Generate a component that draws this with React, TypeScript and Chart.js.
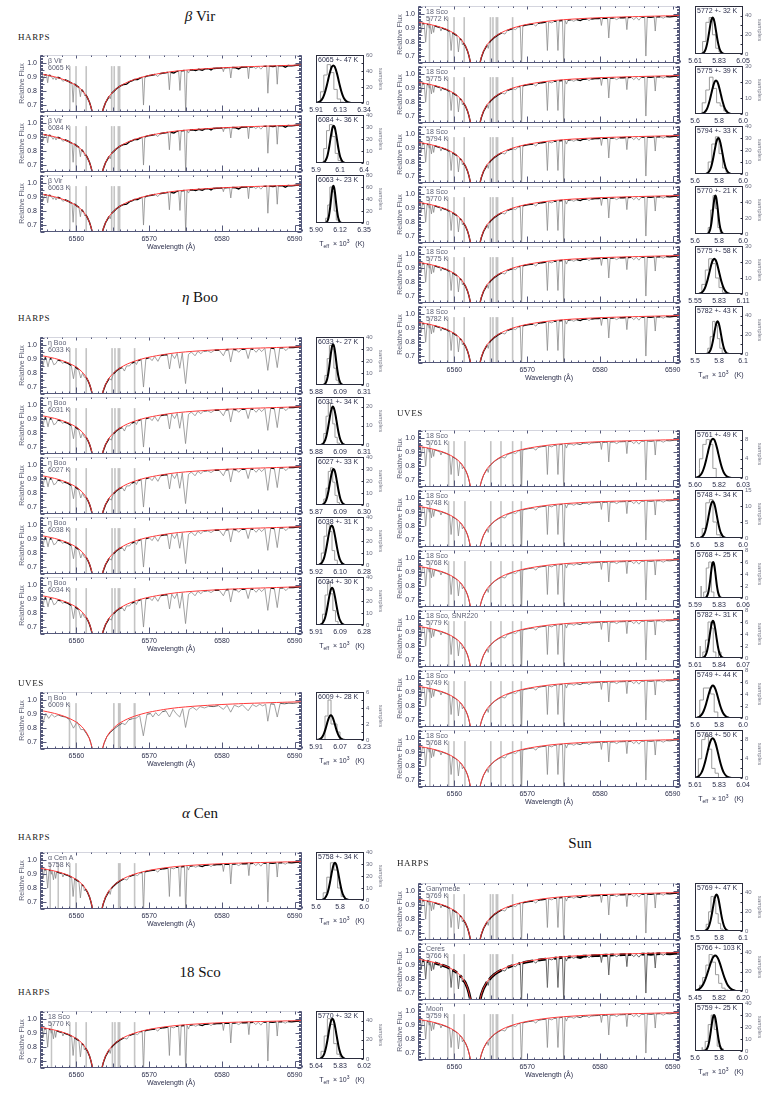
import React, { useEffect, useRef } from "react";
import { Chart, registerables } from "chart.js";
Chart.register(...registerables);

type Pt = [number, number];

const FONT = "'Liberation Sans', 'DejaVu Sans', Arial, sans-serif";
const SERIF = "'Liberation Serif', 'DejaVu Serif', serif";
const TICK_COL = "#2c2f4c";
const AXIS_COL = "#55597a";
const LABEL_GREY = "#5e6175";

const X_MIN = 6555;
const X_MAX = 6591;
const Y_MIN = 0.65;
const Y_MAX = 1.06;
const WAVE_TICKS = [6560, 6570, 6580, 6590];
const FLUX_TICKS = [0.7, 0.8, 0.9, 1.0];
const BAND_TOP = 0.98;

// ---------- model (red) H-alpha profiles ----------
const SOLAR_MODEL: Pt[] = [[6555,0.943],[6556,0.934],[6557,0.923],[6558,0.909],[6559,0.890],[6560,0.862],[6560.5,0.842],[6561,0.815],[6561.5,0.775],[6561.8,0.738],[6562.0,0.702],[6562.2,0.656],[6562.4,0.600],[6563.3,0.600],[6563.5,0.648],[6563.7,0.690],[6564.0,0.735],[6564.5,0.782],[6565.0,0.812],[6565.5,0.836],[6566.0,0.855],[6567.0,0.882],[6568.0,0.901],[6569.0,0.916],[6570.0,0.928],[6572.0,0.945],[6574.0,0.957],[6576.0,0.965],[6578.0,0.971],[6580.0,0.976],[6583.0,0.981],[6586.0,0.985],[6589.0,0.989],[6591.0,0.991]];

const BVIR_MODEL: Pt[] = [[6555,0.925],[6556,0.915],[6557,0.903],[6558,0.888],[6559,0.868],[6560,0.840],[6560.5,0.820],[6561,0.793],[6561.5,0.755],[6561.8,0.720],[6562.0,0.687],[6562.2,0.645],[6562.4,0.595],[6563.3,0.595],[6563.5,0.635],[6563.7,0.673],[6564.0,0.717],[6564.5,0.763],[6565.0,0.793],[6565.5,0.817],[6566.0,0.836],[6567.0,0.864],[6568.0,0.884],[6569.0,0.900],[6570.0,0.913],[6572.0,0.932],[6574.0,0.946],[6576.0,0.955],[6578.0,0.962],[6580.0,0.968],[6583.0,0.975],[6586.0,0.980],[6589.0,0.985],[6591.0,0.988]];

const ETA_MODEL: Pt[] = [[6555,0.928],[6556,0.918],[6557,0.906],[6558,0.891],[6559,0.871],[6560,0.843],[6560.5,0.823],[6561,0.796],[6561.5,0.758],[6561.8,0.722],[6562.0,0.689],[6562.2,0.647],[6562.4,0.597],[6563.3,0.597],[6563.5,0.637],[6563.7,0.675],[6564.0,0.719],[6564.5,0.765],[6565.0,0.795],[6565.5,0.819],[6566.0,0.838],[6567.0,0.866],[6568.0,0.886],[6569.0,0.902],[6570.0,0.915],[6572.0,0.934],[6574.0,0.948],[6576.0,0.957],[6578.0,0.964],[6580.0,0.970],[6583.0,0.977],[6586.0,0.982],[6589.0,0.987],[6591.0,0.990]];

// ---------- observed spectra ----------
const SOLAR_SPEC: Pt[] = [[6555.0,0.940],[6555.3,0.937],[6555.45,0.870],[6555.6,0.934],[6555.85,0.932],[6556.05,0.800],[6556.25,0.929],[6556.45,0.926],[6556.55,0.900],[6556.65,0.925],[6556.85,0.860],[6557.0,0.920],[6557.15,0.870],[6557.3,0.917],[6557.7,0.910],[6558.0,0.906],[6558.15,0.880],[6558.3,0.901],[6558.7,0.894],[6559.0,0.888],[6559.35,0.878],[6559.55,0.740],[6559.75,0.866],[6560.1,0.856],[6560.35,0.846],[6560.55,0.730],[6560.75,0.827],[6561.0,0.813],[6561.1,0.780],[6561.25,0.793],[6561.5,0.774],[6561.8,0.737],[6562.0,0.701],[6562.2,0.655],[6562.4,0.600],[6563.3,0.600],[6563.5,0.647],[6563.7,0.689],[6564.0,0.733],[6564.5,0.780],[6564.65,0.755],[6564.8,0.797],[6565.0,0.810],[6565.5,0.834],[6566.0,0.852],[6566.5,0.866],[6566.95,0.858],[6567.3,0.885],[6567.7,0.892],[6568.0,0.898],[6568.4,0.890],[6568.8,0.910],[6569.05,0.913],[6569.22,0.630],[6569.4,0.917],[6569.8,0.922],[6570.2,0.926],[6570.8,0.931],[6571.2,0.915],[6571.5,0.936],[6572.0,0.940],[6572.6,0.944],[6572.78,0.740],[6572.95,0.946],[6573.4,0.938],[6573.7,0.950],[6574.05,0.952],[6574.23,0.740],[6574.4,0.954],[6574.85,0.956],[6575.02,0.630],[6575.2,0.957],[6575.4,0.930],[6575.6,0.959],[6576.0,0.960],[6576.4,0.950],[6576.8,0.962],[6577.3,0.955],[6577.7,0.965],[6578.2,0.966],[6578.5,0.955],[6578.8,0.967],[6579.3,0.969],[6579.8,0.970],[6580.05,0.971],[6580.2,0.920],[6580.35,0.971],[6580.8,0.972],[6581.05,0.972],[6581.21,0.830],[6581.4,0.973],[6581.9,0.974],[6582.3,0.962],[6582.7,0.975],[6583.2,0.976],[6583.55,0.977],[6583.7,0.890],[6583.85,0.977],[6584.3,0.978],[6584.65,0.962],[6585.0,0.979],[6585.35,0.958],[6585.7,0.980],[6586.15,0.980],[6586.31,0.700],[6586.5,0.981],[6587.0,0.978],[6587.45,0.982],[6587.6,0.880],[6587.75,0.982],[6588.3,0.983],[6588.7,0.972],[6589.1,0.984],[6589.6,0.982],[6590.2,0.986],[6591.0,0.988]];

const BVIR_SPEC: Pt[] = [[6555.0,0.924],[6555.3,0.921],[6555.45,0.875],[6555.6,0.919],[6555.9,0.916],[6556.05,0.860],[6556.2,0.914],[6556.5,0.911],[6556.8,0.885],[6557.0,0.903],[6557.2,0.880],[6557.4,0.900],[6557.8,0.893],[6558.15,0.870],[6558.4,0.882],[6558.8,0.873],[6559.2,0.862],[6559.4,0.857],[6559.55,0.720],[6559.7,0.852],[6560.1,0.836],[6560.35,0.827],[6560.55,0.760],[6560.7,0.812],[6561.0,0.793],[6561.15,0.765],[6561.3,0.773],[6561.5,0.755],[6561.8,0.720],[6562.0,0.687],[6562.2,0.645],[6562.4,0.595],[6563.3,0.595],[6563.5,0.635],[6563.7,0.673],[6564.0,0.717],[6564.5,0.763],[6564.65,0.745],[6564.8,0.781],[6565.0,0.793],[6565.5,0.817],[6566.0,0.836],[6566.5,0.848],[6566.9,0.850],[6567.3,0.868],[6567.7,0.876],[6568.0,0.884],[6568.4,0.883],[6568.8,0.896],[6569.05,0.899],[6569.22,0.700],[6569.4,0.902],[6569.8,0.910],[6570.3,0.914],[6570.8,0.920],[6571.2,0.905],[6571.5,0.925],[6572.0,0.931],[6572.6,0.935],[6572.78,0.810],[6572.95,0.936],[6573.4,0.930],[6573.7,0.940],[6574.05,0.944],[6574.23,0.805],[6574.4,0.946],[6574.85,0.948],[6575.02,0.640],[6575.2,0.949],[6575.4,0.930],[6575.6,0.952],[6576.0,0.954],[6576.4,0.948],[6576.8,0.957],[6577.3,0.951],[6577.7,0.960],[6578.2,0.962],[6578.5,0.952],[6578.8,0.963],[6579.3,0.965],[6579.8,0.966],[6580.05,0.967],[6580.2,0.940],[6580.35,0.968],[6580.8,0.969],[6581.05,0.969],[6581.21,0.895],[6581.4,0.970],[6581.9,0.968],[6582.3,0.960],[6582.7,0.972],[6583.2,0.973],[6583.5,0.974],[6583.65,0.890],[6583.8,0.974],[6584.3,0.976],[6584.65,0.962],[6585.0,0.977],[6585.35,0.958],[6585.7,0.978],[6586.15,0.979],[6586.31,0.785],[6586.5,0.980],[6587.0,0.977],[6587.45,0.981],[6587.6,0.850],[6587.75,0.982],[6588.3,0.983],[6588.7,0.972],[6589.1,0.984],[6589.6,0.982],[6590.2,0.986],[6591.0,0.988]];

const ETA_SPEC: Pt[] = [[6555.0,0.926],[6555.15,0.915],[6555.4,0.850],[6555.65,0.912],[6555.85,0.905],[6556.1,0.845],[6556.35,0.905],[6556.6,0.900],[6556.9,0.860],[6557.2,0.870],[6557.45,0.895],[6557.85,0.888],[6558.1,0.870],[6558.35,0.880],[6558.8,0.872],[6559.3,0.855],[6559.6,0.760],[6559.85,0.845],[6560.3,0.826],[6560.6,0.765],[6560.85,0.800],[6561.1,0.770],[6561.35,0.770],[6561.6,0.745],[6561.8,0.720],[6562.0,0.687],[6562.2,0.645],[6562.4,0.595],[6563.3,0.595],[6563.5,0.635],[6563.7,0.673],[6564.0,0.717],[6564.5,0.763],[6564.8,0.750],[6565.1,0.795],[6565.5,0.817],[6566.0,0.836],[6566.3,0.840],[6566.6,0.815],[6566.9,0.852],[6567.3,0.852],[6567.6,0.872],[6568.0,0.882],[6568.25,0.862],[6568.5,0.890],[6568.9,0.899],[6569.22,0.700],[6569.55,0.904],[6570.0,0.912],[6570.4,0.890],[6570.75,0.920],[6571.2,0.885],[6571.6,0.926],[6572.1,0.932],[6572.5,0.932],[6572.8,0.830],[6573.1,0.937],[6573.5,0.905],[6573.85,0.942],[6574.2,0.835],[6574.55,0.946],[6575.0,0.725],[6575.4,0.935],[6575.8,0.952],[6576.3,0.925],[6576.7,0.957],[6577.1,0.940],[6577.5,0.960],[6578.0,0.962],[6578.5,0.948],[6579.0,0.965],[6579.6,0.967],[6580.2,0.925],[6580.55,0.968],[6580.9,0.970],[6581.2,0.880],[6581.55,0.971],[6582.0,0.967],[6582.3,0.950],[6582.7,0.972],[6583.25,0.974],[6583.6,0.905],[6583.95,0.975],[6584.3,0.972],[6584.7,0.950],[6585.1,0.976],[6585.45,0.955],[6585.9,0.979],[6586.3,0.820],[6586.7,0.980],[6587.2,0.977],[6587.6,0.840],[6587.95,0.983],[6588.4,0.982],[6588.8,0.962],[6589.2,0.985],[6589.8,0.984],[6590.4,0.987],[6591.0,0.989]];

const ETA_UVES_SPEC: Pt[] = [[6555.0,0.915],[6555.4,0.835],[6555.8,0.905],[6556.2,0.870],[6556.6,0.900],[6557.0,0.880],[6557.5,0.895],[6558.0,0.885],[6558.5,0.880],[6559.0,0.865],[6559.6,0.800],[6560.1,0.845],[6560.6,0.790],[6561.0,0.790],[6561.4,0.760],[6561.8,0.725],[6562.0,0.690],[6562.2,0.650],[6562.4,0.600],[6563.4,0.600],[6563.6,0.650],[6563.8,0.690],[6564.2,0.740],[6564.7,0.770],[6565.2,0.795],[6565.8,0.820],[6566.3,0.835],[6566.7,0.825],[6567.2,0.860],[6567.7,0.868],[6568.2,0.872],[6568.7,0.890],[6569.2,0.745],[6569.7,0.900],[6570.2,0.905],[6570.5,0.880],[6570.9,0.912],[6571.3,0.888],[6571.8,0.918],[6572.3,0.925],[6572.8,0.880],[6573.3,0.935],[6573.7,0.905],[6574.2,0.880],[6574.6,0.940],[6575.0,0.805],[6575.5,0.935],[6576.0,0.950],[6576.5,0.930],[6577.0,0.955],[6577.6,0.945],[6578.2,0.958],[6578.8,0.955],[6579.5,0.962],[6580.2,0.935],[6580.7,0.965],[6581.2,0.915],[6581.7,0.965],[6582.3,0.952],[6582.8,0.968],[6583.6,0.925],[6584.2,0.970],[6584.7,0.955],[6585.2,0.972],[6585.6,0.960],[6586.0,0.972],[6586.3,0.850],[6586.7,0.975],[6587.2,0.972],[6587.6,0.880],[6588.0,0.978],[6588.6,0.975],[6589.2,0.980],[6589.8,0.978],[6590.4,0.983],[6591.0,0.985]];

// ---------- masked (grey) wavelength bands: [centre, width] ----------
const BANDS_BVIR: Pt[] = [[6559.1,0.22],[6559.95,0.22],[6561.35,0.22],[6564.85,0.22],[6565.2,0.22],[6565.85,0.4]];
const BANDS_ETA: Pt[] = [[6559.1,0.22],[6559.95,0.22],[6561.35,0.22],[6564.9,0.22],[6565.3,0.22],[6565.85,0.4],[6568.0,0.22]];
const BANDS_ETA_UVES: Pt[] = [[6559.05,0.22],[6559.95,0.22],[6565.15,0.22],[6565.9,0.4],[6568.0,0.3]];
const BANDS_SCO: Pt[] = [[6556.55,0.15],[6559.1,0.22],[6559.95,0.22],[6561.35,0.22],[6564.95,0.22],[6565.3,0.22],[6565.85,0.4],[6568.0,0.22]];
const BANDS_ACEN: Pt[] = [[6556.4,0.2],[6557.5,0.2],[6559.1,0.22],[6559.95,0.22],[6565.9,0.4],[6568.0,0.22]];
const BANDS_SCO_UVES: Pt[] = [[6556.6,0.15],[6559.2,0.22],[6559.95,0.22],[6561.45,0.22],[6565.0,0.22],[6566.4,0.22],[6568.0,0.22],[6569.2,0.22]];

// ---------- normalised Gaussian shape (z in units of sigma) ----------
const GAUSS_Z = [-4,-3.5,-3,-2.5,-2,-1.75,-1.5,-1.25,-1,-0.75,-0.5,-0.25,0,0.25,0.5,0.75,1,1.25,1.5,1.75,2,2.5,3,3.5,4];
const GAUSS_SHAPE = [0.0003,0.0022,0.0111,0.0439,0.1353,0.2163,0.3247,0.4578,0.6065,0.7548,0.8825,0.9692,1,0.9692,0.8825,0.7548,0.6065,0.4578,0.3247,0.2163,0.1353,0.0439,0.0111,0.0022,0.0003];

type Hist = { label: string; lo: number; hi: number; xl: string[]; yMax: number; yStep: number; mean: number; sd: number; peak: number; b0: number; bw: number; counts: number[] };

const H_BVIR: Hist[] = [
  { label: "6065 +- 47 K", lo: 5.91, hi: 6.34, xl: ["5.91", "6.13", "6.34"], yMax: 60, yStep: 10, mean: 6.065, sd: 0.047, peak: 47, b0: 5.95, bw: 0.03, counts: [4, 14, 35, 48, 38, 17, 5, 1] },
  { label: "6084 +- 36 K", lo: 5.9, hi: 6.4, xl: ["5.9", "6.1", "6.4"], yMax: 40, yStep: 10, mean: 6.084, sd: 0.036, peak: 31, b0: 5.98, bw: 0.03, counts: [3, 12, 27, 32, 22, 8, 2] },
  { label: "6063 +- 23 K", lo: 5.9, hi: 6.35, xl: ["5.90", "6.12", "6.35"], yMax: 80, yStep: 20, mean: 6.063, sd: 0.023, peak: 62, b0: 5.99, bw: 0.02, counts: [2, 8, 30, 60, 52, 20, 5, 1] },
];
const H_ETA: Hist[] = [
  { label: "6033 +- 27 K", lo: 5.88, hi: 6.31, xl: ["5.88", "6.09", "6.31"], yMax: 40, yStep: 10, mean: 6.033, sd: 0.027, peak: 34, b0: 5.96, bw: 0.02, counts: [2, 8, 22, 33, 30, 14, 4, 1] },
  { label: "6031 +- 34 K", lo: 5.88, hi: 6.31, xl: ["5.88", "6.09", "6.31"], yMax: 25, yStep: 5, mean: 6.031, sd: 0.034, peak: 20, b0: 5.95, bw: 0.02, counts: [2, 6, 15, 22, 19, 11, 4, 1] },
  { label: "6027 +- 33 K", lo: 5.87, hi: 6.3, xl: ["5.87", "6.09", "6.30"], yMax: 40, yStep: 10, mean: 6.027, sd: 0.033, peak: 30, b0: 5.94, bw: 0.02, counts: [1, 5, 14, 28, 31, 19, 8, 2] },
  { label: "6038 +- 31 K", lo: 5.92, hi: 6.28, xl: ["5.92", "6.10", "6.28"], yMax: 40, yStep: 10, mean: 6.038, sd: 0.031, peak: 33, b0: 5.96, bw: 0.02, counts: [3, 10, 24, 34, 28, 12, 4] },
  { label: "6034 +- 30 K", lo: 5.91, hi: 6.28, xl: ["5.91", "6.09", "6.28"], yMax: 40, yStep: 10, mean: 6.034, sd: 0.03, peak: 31, b0: 5.96, bw: 0.02, counts: [2, 9, 25, 36, 26, 12, 3] },
];
const H_ETA_UVES: Hist[] = [
  { label: "6009 +- 28 K", lo: 5.91, hi: 6.23, xl: ["5.91", "6.07", "6.23"], yMax: 6, yStep: 1, mean: 6.009, sd: 0.028, peak: 3.1, b0: 5.97, bw: 0.02, counts: [3, 3, 5, 2, 2, 1] },
];
const H_ACEN: Hist[] = [
  { label: "5758 +- 34 K", lo: 5.6, hi: 6.0, xl: ["5.6", "5.8", "6.0"], yMax: 40, yStep: 10, mean: 5.758, sd: 0.034, peak: 31, b0: 5.66, bw: 0.03, counts: [1, 6, 19, 31, 25, 10, 3, 1] },
];
const H_SCO_L: Hist[] = [
  { label: "5770 +- 32 K", lo: 5.64, hi: 6.02, xl: ["5.64", "5.83", "6.02"], yMax: 50, yStep: 10, mean: 5.77, sd: 0.032, peak: 42, b0: 5.68, bw: 0.025, counts: [2, 8, 24, 42, 36, 16, 5, 2] },
];
const H_SCO_R: Hist[] = [
  { label: "5772 +- 32 K", lo: 5.61, hi: 6.05, xl: ["5.61", "5.83", "6.05"], yMax: 50, yStep: 10, mean: 5.772, sd: 0.032, peak: 38, b0: 5.68, bw: 0.03, counts: [3, 13, 33, 38, 20, 6, 2] },
  { label: "5775 +- 39 K", lo: 5.6, hi: 6.0, xl: ["5.6", "5.8", "6.0"], yMax: 30, yStep: 10, mean: 5.775, sd: 0.039, peak: 21, b0: 5.66, bw: 0.03, counts: [2, 7, 15, 23, 16, 7, 5, 2] },
  { label: "5794 +- 33 K", lo: 5.6, hi: 6.0, xl: ["5.6", "5.8", "6.0"], yMax: 40, yStep: 10, mean: 5.794, sd: 0.033, peak: 30, b0: 5.71, bw: 0.03, counts: [2, 10, 25, 31, 17, 5, 1] },
  { label: "5770 +- 21 K", lo: 5.6, hi: 6.0, xl: ["5.6", "5.8", "6.0"], yMax: 60, yStep: 20, mean: 5.77, sd: 0.021, peak: 48, b0: 5.71, bw: 0.02, counts: [2, 8, 30, 48, 32, 8, 2] },
  { label: "5775 +- 58 K", lo: 5.55, hi: 6.11, xl: ["5.55", "5.83", "6.11"], yMax: 30, yStep: 10, mean: 5.775, sd: 0.058, peak: 22, b0: 5.63, bw: 0.04, counts: [2, 6, 15, 22, 19, 10, 4, 1] },
  { label: "5782 +- 43 K", lo: 5.5, hi: 6.1, xl: ["5.5", "5.8", "6.1"], yMax: 50, yStep: 10, mean: 5.782, sd: 0.043, peak: 34, b0: 5.66, bw: 0.03, counts: [2, 6, 18, 34, 30, 16, 6, 1] },
];
const H_SCO_UVES: Hist[] = [
  { label: "5761 +- 49 K", lo: 5.6, hi: 6.03, xl: ["5.60", "5.82", "6.03"], yMax: 10, yStep: 2, mean: 5.761, sd: 0.049, peak: 8.2, b0: 5.64, bw: 0.03, counts: [2, 4, 7, 8, 7, 2] },
  { label: "5748 +- 34 K", lo: 5.6, hi: 6.0, xl: ["5.6", "5.8", "6.0"], yMax: 15, yStep: 5, mean: 5.748, sd: 0.034, peak: 11.5, b0: 5.66, bw: 0.03, counts: [1, 3, 11, 12, 5, 1] },
  { label: "5768 +- 25 K", lo: 5.59, hi: 6.06, xl: ["5.59", "5.83", "6.06"], yMax: 8, yStep: 2, mean: 5.768, sd: 0.025, peak: 6, b0: 5.65, bw: 0.025, counts: [2, 0, 1, 5, 6, 1] },
  { label: "5782 +- 31 K", lo: 5.61, hi: 6.07, xl: ["5.61", "5.84", "6.07"], yMax: 8, yStep: 2, mean: 5.782, sd: 0.031, peak: 6.2, b0: 5.66, bw: 0.025, counts: [2, 0, 1, 3, 6, 5, 1, 0, 1] },
  { label: "5749 +- 44 K", lo: 5.6, hi: 6.0, xl: ["5.6", "5.8", "6.0"], yMax: 8, yStep: 2, mean: 5.749, sd: 0.044, peak: 5.4, b0: 5.64, bw: 0.03, counts: [1, 3, 5, 5, 4, 1] },
  { label: "5768 +- 50 K", lo: 5.61, hi: 6.04, xl: ["5.61", "5.83", "6.04"], yMax: 10, yStep: 2, mean: 5.768, sd: 0.05, peak: 8.3, b0: 5.64, bw: 0.03, counts: [1, 4, 8, 9, 6, 2, 1] },
];
const H_SUN: Hist[] = [
  { label: "5769 +- 47 K", lo: 5.5, hi: 6.1, xl: ["5.5", "5.8", "6.1"], yMax: 50, yStep: 10, mean: 5.769, sd: 0.047, peak: 38, b0: 5.64, bw: 0.03, counts: [2, 7, 20, 36, 32, 18, 8, 2] },
  { label: "5766 +- 103 K", lo: 5.45, hi: 6.2, xl: ["5.45", "5.82", "6.20"], yMax: 50, yStep: 10, mean: 5.766, sd: 0.103, peak: 37, b0: 5.52, bw: 0.05, counts: [2, 6, 14, 27, 38, 30, 17, 8, 3, 1] },
  { label: "5759 +- 25 K", lo: 5.6, hi: 6.0, xl: ["5.6", "5.8", "6.0"], yMax: 40, yStep: 10, mean: 5.759, sd: 0.025, peak: 30, b0: 5.66, bw: 0.025, counts: [3, 1, 8, 22, 30, 18, 4, 2] },
];

// ---------- panel labels ----------
const TEFF_BVIR = ["6065 K", "6084 K", "6063 K"];
const TEFF_ETA = ["6033 K", "6031 K", "6027 K", "6038 K", "6034 K"];
const TEFF_SCO_R = ["5772 K", "5775 K", "5794 K", "5770 K", "5775 K", "5782 K"];
const TEFF_SCO_UVES = ["5761 K", "5748 K", "5768 K", "5779 K", "5749 K", "5768 K"];
const NAMES_SCO_UVES = ["18 Sco", "18 Sco", "18 Sco", "18 Sco, SNR220", "18 Sco", "18 Sco"];
const NAMES_SUN = ["Ganymede", "Ceres", "Moon"];
const TEFF_SUN = ["5769 K", "5766 K", "5759 K"];

// ---------- layout ----------
const LEFT_X = 40;
const RIGHT_X = 418;
const BOX_W = 262;
const BOX_H = 57;
const HIST_GAP = 15;
const HIST_W = 48;
const AXIS_W = 22;

const MODES: Record<string, { cc: string; cw: number; lc: string; lw: number }> = {
  harps: { cc: "#000", cw: 1.4, lc: "#8a8a8a", lw: 0.8 },
  uves: { cc: "#4a4a4a", cw: 0.9, lc: "#8a8a8a", lw: 0.8 },
  noisy: { cc: "#000", cw: 2.8, lc: "#666", lw: 1.0 },
  moon: { cc: "#333", cw: 0.9, lc: "#8a8a8a", lw: 0.8 },
};

function modelAt(model: Pt[], x: number) {
  if (x <= model[0][0]) return model[0][1];
  for (let i = 1; i < model.length; i++) {
    if (x <= model[i][0]) {
      const [x0, y0] = model[i - 1];
      const [x1, y1] = model[i];
      return y0 + ((y1 - y0) * (x - x0)) / (x1 - x0);
    }
  }
  return model[model.length - 1][1];
}

type SpecProps = { left: number; top: number; spec: Pt[]; model: Pt[]; bands: Pt[]; name: string; teff: string; mode: string; showX: boolean };

function SpecPanel(p: SpecProps) {
  const ref = useRef<HTMLCanvasElement>(null);
  const padT = 10;
  const bottomH = p.showX ? 19 : 10;
  const cw = AXIS_W + BOX_W + 8;
  const ch = padT + BOX_H + bottomH;
  useEffect(() => {
    const st = MODES[p.mode];
    const isLine = (q: any) => q && q.y < modelAt(p.model, q.x) - 0.015;
    const frame = {
      id: "specFrame",
      beforeDatasetsDraw(chart: any) {
        const { ctx, chartArea: a } = chart;
        const xs = chart.scales.x;
        const ys = chart.scales.y;
        ctx.save();
        ctx.fillStyle = "#c4c4c4";
        const yt = ys.getPixelForValue(BAND_TOP);
        for (const [c, w] of p.bands) {
          const x0 = xs.getPixelForValue(c - w / 2);
          const x1 = xs.getPixelForValue(c + w / 2);
          ctx.fillRect(x0, yt, Math.max(1.5, x1 - x0), a.bottom - yt);
        }
        ctx.restore();
      },
      afterDatasetsDraw(chart: any) {
        const { ctx, chartArea: a } = chart;
        const xs = chart.scales.x;
        const ys = chart.scales.y;
        ctx.save();
        const L = Math.round(a.left) + 0.5;
        const R = Math.round(a.right) - 0.5;
        const B = Math.round(a.bottom) - 0.5;
        const T = Math.round(a.top) + 0.5;
        ctx.strokeStyle = "#d4d5de";
        ctx.lineWidth = 1;
        ctx.beginPath();
        ctx.moveTo(L, T);
        ctx.lineTo(R, T);
        ctx.stroke();
        ctx.strokeStyle = AXIS_COL;
        ctx.beginPath();
        ctx.moveTo(L, T);
        ctx.lineTo(L, B);
        ctx.lineTo(R, B);
        ctx.lineTo(R, T);
        for (let i = 65; i <= 106; i++) {
          const py = Math.round(ys.getPixelForValue(i / 100)) + 0.5;
          const len = i % 10 === 0 ? 6 : i % 5 === 0 ? 4 : 2.5;
          ctx.moveTo(L, py);
          ctx.lineTo(L + len, py);
          ctx.moveTo(R, py);
          ctx.lineTo(R - len, py);
        }
        for (let w = X_MIN; w <= X_MAX; w++) {
          const px = Math.round(xs.getPixelForValue(w)) + 0.5;
          const len = w % 10 === 0 ? 6 : w % 5 === 0 ? 4 : 2;
          ctx.moveTo(px, B);
          ctx.lineTo(px, B - len);
          if (w % 2 === 0) {
            ctx.moveTo(px, T);
            ctx.lineTo(px, T + (w % 10 === 0 ? 3 : 1.5));
          }
        }
        ctx.stroke();
        ctx.fillStyle = LABEL_GREY;
        ctx.font = `7px ${FONT}`;
        ctx.textBaseline = "alphabetic";
        ctx.fillText(p.name, a.left + 8, a.top + 8);
        ctx.fillText(p.teff, a.left + 8, a.top + 15);
        ctx.restore();
      },
    };
    const chart = new Chart(ref.current as HTMLCanvasElement, {
      type: "line",
      data: {
        datasets: [
          {
            data: p.spec.map(([x, y]) => ({ x, y })),
            borderColor: st.cc,
            borderWidth: st.cw,
            pointRadius: 0,
            tension: 0,
            order: 2,
            segment: {
              borderColor: (c: any) => (isLine(c.p0.parsed) || isLine(c.p1.parsed) ? st.lc : st.cc),
              borderWidth: (c: any) => (isLine(c.p0.parsed) || isLine(c.p1.parsed) ? st.lw : st.cw),
            },
          } as any,
          {
            data: p.model.map(([x, y]) => ({ x, y })),
            borderColor: "#ff3a3a",
            borderWidth: 1,
            pointRadius: 0,
            tension: 0.3,
            order: 1,
          },
        ],
      },
      options: {
        animation: false,
        responsive: false,
        events: [],
        layout: { padding: { left: 0, right: 8, top: padT, bottom: p.showX ? 0 : 10 } },
        plugins: { legend: { display: false }, tooltip: { enabled: false } },
        scales: {
          x: {
            type: "linear",
            min: X_MIN,
            max: X_MAX,
            display: p.showX,
            grid: { display: false, drawTicks: false },
            border: { display: false },
            afterBuildTicks: (s: any) => {
              s.ticks = WAVE_TICKS.map((v) => ({ value: v }));
            },
            ticks: { font: { size: 7, family: FONT }, color: TICK_COL, padding: 3, maxRotation: 0, autoSkip: false, callback: (v: any) => String(v) },
            title: { display: true, text: "Wavelength (Å)", font: { size: 7, family: FONT }, color: TICK_COL, padding: 0 },
            afterFit: (s: any) => {
              s.height = p.showX ? 19 : 0;
            },
          },
          y: {
            type: "linear",
            min: Y_MIN,
            max: Y_MAX,
            grid: { display: false, drawTicks: false },
            border: { display: false },
            afterBuildTicks: (s: any) => {
              s.ticks = FLUX_TICKS.map((v) => ({ value: v }));
            },
            ticks: { font: { size: 7, family: FONT }, color: TICK_COL, padding: 3, callback: (v: any) => Number(v).toFixed(1) },
            title: { display: true, text: "Relative Flux", font: { size: 7, family: FONT }, color: LABEL_GREY, padding: 0 },
            afterFit: (s: any) => {
              s.width = AXIS_W;
            },
          },
        },
      } as any,
      plugins: [frame as any],
    });
    return () => chart.destroy();
  }, []);
  return (
    <canvas
      ref={ref}
      width={cw}
      height={ch}
      style={{ position: "absolute", left: p.left - AXIS_W, top: p.top - padT, width: cw, height: ch }}
    />
  );
}

function HistPanel({ left, top, h }: { left: number; top: number; h: Hist }) {
  const ref = useRef<HTMLCanvasElement>(null);
  const padL = 12;
  const padT = 8;
  const cw = padL + HIST_W + 20;
  const ch = padT + HIST_W + 13;
  useEffect(() => {
    const steps: { x: number; y: number }[] = [{ x: h.b0, y: 0 }];
    h.counts.forEach((c, i) => steps.push({ x: h.b0 + i * h.bw, y: c }));
    steps.push({ x: h.b0 + h.counts.length * h.bw, y: 0 });
    const gauss = GAUSS_Z.map((z, i) => ({ x: h.mean + z * h.sd, y: h.peak * GAUSS_SHAPE[i] }));
    const yTicks: number[] = [];
    for (let v = 0; v <= h.yMax + 1e-9; v += h.yStep) yTicks.push(v);
    const frame = {
      id: "histFrame",
      afterDatasetsDraw(chart: any) {
        const { ctx, chartArea: a } = chart;
        const ys = chart.scales.y;
        ctx.save();
        ctx.strokeStyle = "#2a2c3c";
        ctx.lineWidth = 1;
        const L = Math.round(a.left) + 0.5;
        const R = Math.round(a.right) - 0.5;
        const T = Math.round(a.top) + 0.5;
        const B = Math.round(a.bottom) - 0.5;
        ctx.strokeRect(L, T, R - L, B - T);
        ctx.beginPath();
        for (const v of yTicks) {
          const py = Math.round(ys.getPixelForValue(v)) + 0.5;
          ctx.moveTo(R, py);
          ctx.lineTo(R - 2, py);
        }
        ctx.stroke();
        ctx.fillStyle = TICK_COL;
        ctx.font = `7px ${FONT}`;
        ctx.fillText(h.label, a.left + 2, a.top + 7);
        ctx.restore();
      },
    };
    const chart = new Chart(ref.current as HTMLCanvasElement, {
      type: "line",
      data: {
        datasets: [
          { data: steps, borderColor: "#9c9c9c", borderWidth: 1, stepped: "after", pointRadius: 0, order: 2 } as any,
          { data: gauss, borderColor: "#000", borderWidth: 2, pointRadius: 0, cubicInterpolationMode: "monotone", order: 1 },
        ],
      },
      options: {
        animation: false,
        responsive: false,
        events: [],
        layout: { padding: { left: padL, right: 0, top: padT, bottom: 0 } },
        plugins: { legend: { display: false }, tooltip: { enabled: false } },
        scales: {
          x: {
            type: "linear",
            min: h.lo,
            max: h.hi,
            grid: { display: false, drawTicks: false },
            border: { display: false },
            afterBuildTicks: (s: any) => {
              s.ticks = [h.lo, (h.lo + h.hi) / 2, h.hi].map((v) => ({ value: v }));
            },
            ticks: { font: { size: 7, family: FONT }, color: TICK_COL, padding: 3, maxRotation: 0, autoSkip: false, callback: (_v: any, i: number) => h.xl[i] },
            afterFit: (s: any) => {
              s.height = 13;
            },
          },
          y: {
            type: "linear",
            position: "right",
            min: 0,
            max: h.yMax,
            grid: { display: false, drawTicks: false },
            border: { display: false },
            afterBuildTicks: (s: any) => {
              s.ticks = yTicks.map((v) => ({ value: v }));
            },
            ticks: { font: { size: 6, family: FONT }, color: "#6a6d80", padding: 2, callback: (v: any) => String(v) },
            title: { display: true, text: "samples", font: { size: 6, family: FONT }, color: "#7a7c8a", padding: 0 },
            afterFit: (s: any) => {
              s.width = 20;
            },
          },
        },
      } as any,
      plugins: [frame as any],
    });
    return () => chart.destroy();
  }, []);
  return (
    <canvas
      ref={ref}
      width={cw}
      height={ch}
      style={{ position: "absolute", left: left - padL, top: top - padT, width: cw, height: ch }}
    />
  );
}

function Title({ cx, cy, children }: { cx: number; cy: number; children: any }) {
  return (
    <div style={{ position: "absolute", left: cx, top: cy, transform: "translate(-50%, -50%)", fontFamily: SERIF, fontSize: 15, lineHeight: 1, whiteSpace: "nowrap", color: "#111" }}>
      {children}
    </div>
  );
}

function Inst({ x, cy, text }: { x: number; cy: number; text: string }) {
  return (
    <div style={{ position: "absolute", left: x, top: cy - 5, fontFamily: SERIF, fontSize: 9, lineHeight: "10px", letterSpacing: 0.6, whiteSpace: "nowrap", color: "#222" }}>
      {text}
    </div>
  );
}

function TeffLabel({ cx, cy }: { cx: number; cy: number }) {
  return (
    <div style={{ position: "absolute", left: cx, top: cy, transform: "translate(-50%, -50%)", fontFamily: FONT, fontSize: 7, lineHeight: 1, whiteSpace: "nowrap", color: TICK_COL }}>
      T<sub style={{ fontSize: 5 }}>eff</sub>&nbsp;&nbsp;× 10<sup style={{ fontSize: 5 }}>3</sup>&nbsp;&nbsp;&nbsp;(K)
    </div>
  );
}

type Row = { spec: Pt[]; model: Pt[]; bands: Pt[]; name: string; teff: string; mode: string; hist: Hist };

function Group({ col, tops, rows }: { col: "L" | "R"; tops: number[]; rows: Row[] }) {
  const bx = col === "L" ? LEFT_X : RIGHT_X;
  const hx = bx + BOX_W + HIST_GAP - (col === "L" ? 1 : 0);
  const last = tops[tops.length - 1] + BOX_H;
  return (
    <>
      {rows.map((r, i) => (
        <React.Fragment key={i}>
          <SpecPanel left={bx} top={tops[i]} spec={r.spec} model={r.model} bands={r.bands} name={r.name} teff={r.teff} mode={r.mode} showX={i === rows.length - 1} />
          <HistPanel left={hx} top={tops[i]} h={r.hist} />
        </React.Fragment>
      ))}
      <TeffLabel cx={hx + HIST_W / 2 + 2} cy={last + 12} />
    </>
  );
}

export default function App() {
  const bvir: Row[] = TEFF_BVIR.map((t, i) => ({ spec: BVIR_SPEC, model: BVIR_MODEL, bands: BANDS_BVIR, name: "β Vir", teff: t, mode: "harps", hist: H_BVIR[i] }));
  const eta: Row[] = TEFF_ETA.map((t, i) => ({ spec: ETA_SPEC, model: ETA_MODEL, bands: BANDS_ETA, name: "η Boo", teff: t, mode: "harps", hist: H_ETA[i] }));
  const etaU: Row[] = [{ spec: ETA_UVES_SPEC, model: ETA_MODEL, bands: BANDS_ETA_UVES, name: "η Boo", teff: "6009 K", mode: "uves", hist: H_ETA_UVES[0] }];
  const acen: Row[] = [{ spec: SOLAR_SPEC, model: SOLAR_MODEL, bands: BANDS_ACEN, name: "α Cen A", teff: "5758 K", mode: "harps", hist: H_ACEN[0] }];
  const scoL: Row[] = [{ spec: SOLAR_SPEC, model: SOLAR_MODEL, bands: BANDS_SCO, name: "18 Sco", teff: "5770 K", mode: "harps", hist: H_SCO_L[0] }];
  const scoR: Row[] = TEFF_SCO_R.map((t, i) => ({ spec: SOLAR_SPEC, model: SOLAR_MODEL, bands: BANDS_SCO, name: "18 Sco", teff: t, mode: "harps", hist: H_SCO_R[i] }));
  const scoU: Row[] = TEFF_SCO_UVES.map((t, i) => ({ spec: SOLAR_SPEC, model: SOLAR_MODEL, bands: BANDS_SCO_UVES, name: NAMES_SCO_UVES[i], teff: t, mode: "uves", hist: H_SCO_UVES[i] }));
  const sun: Row[] = NAMES_SUN.map((n, i) => ({ spec: SOLAR_SPEC, model: SOLAR_MODEL, bands: BANDS_SCO, name: n, teff: TEFF_SUN[i], mode: i === 1 ? "noisy" : i === 2 ? "moon" : "harps", hist: H_SUN[i] }));

  return (
    <div style={{ position: "absolute", left: 0, top: 0, width: 781, height: 1104, background: "#fff", overflow: "hidden" }}>
      <Title cx={200} cy={16}><i>β</i> Vir</Title>
      <Inst x={18} cy={37} text="HARPS" />
      <Group col="L" tops={[55, 115, 175]} rows={bvir} />

      <Title cx={200} cy={297}><i>η</i> Boo</Title>
      <Inst x={18} cy={318} text="HARPS" />
      <Group col="L" tops={[337, 397, 457, 517, 577]} rows={eta} />
      <Inst x={18} cy={683} text="UVES" />
      <Group col="L" tops={[692]} rows={etaU} />

      <Title cx={200} cy={813}><i>α</i> Cen</Title>
      <Inst x={18} cy={837} text="HARPS" />
      <Group col="L" tops={[852]} rows={acen} />

      <Title cx={200} cy={972}>18 Sco</Title>
      <Inst x={18} cy={992} text="HARPS" />
      <Group col="L" tops={[1011]} rows={scoL} />

      <Group col="R" tops={[6, 66, 126, 186, 246, 306]} rows={scoR} />
      <Inst x={397} cy={413} text="UVES" />
      <Group col="R" tops={[430, 490, 550, 610, 670, 730]} rows={scoU} />

      <Title cx={580} cy={843}>Sun</Title>
      <Inst x={397} cy={863} text="HARPS" />
      <Group col="R" tops={[883, 943, 1003]} rows={sun} />
    </div>
  );
}
